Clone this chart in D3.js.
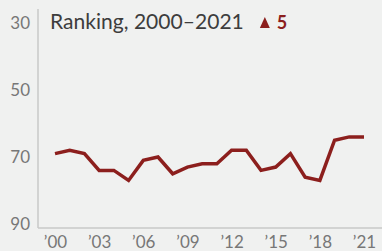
<!DOCTYPE html>
<html>
<head>
<meta charset="utf-8">
<script src="https://cdn.jsdelivr.net/npm/d3@7"></script>
<style>
  body { margin: 0; background: #f0f1f0; }
  svg { display: block; }
  .tick text { font-family: Lato, "Open Sans", sans-serif; font-size: 17px; fill: #777; }
</style>
</head>
<body>
<div id="chart"></div>
<script>
// Ranking by year (lower number = better rank)
var years = d3.range(2000, 2022);
var ranks = [69, 68, 69, 74, 74, 77, 71, 70, 75, 73, 72, 72, 68, 68, 74, 73, 69, 76, 77, 65, 64, 64];
var yTicks = [30, 50, 70, 90];
var xTicks = [2000, 2003, 2006, 2009, 2012, 2015, 2018, 2021];
var title = "Ranking, 2000\u20132021";
var change = "5";

var width = 382, height = 251;
var red = "#8c1f1d";

var svg = d3.select("#chart")
    .append("svg")
    .attr("width", width)
    .attr("height", height);

svg.append("rect")
    .attr("width", width)
    .attr("height", height)
    .attr("fill", "#f0f1f0");

var x = d3.scaleLinear()
    .domain([2000, 2021])
    .range([55, 364]);

// inverted: rank 30 at the top
var y = d3.scaleLinear()
    .domain([30, 90])
    .range([23, 224]);

// axis lines
svg.append("line")
    .attr("x1", 38).attr("x2", 38)
    .attr("y1", 9).attr("y2", 228)
    .attr("stroke", "#c8c8c8")
    .attr("stroke-width", 1.5);

svg.append("line")
    .attr("x1", 38).attr("x2", width)
    .attr("y1", 228).attr("y2", 228)
    .attr("stroke", "#c8c8c8")
    .attr("stroke-width", 1.5);

var yAxis = svg.append("g")
    .attr("transform", "translate(38,0)")
    .call(d3.axisLeft(y).tickValues(yTicks).tickSize(0).tickPadding(8));
yAxis.select(".domain").remove();

var xAxis = svg.append("g")
    .attr("transform", "translate(0,228)")
    .call(d3.axisBottom(x).tickValues(xTicks).tickSize(0).tickPadding(8)
        .tickFormat(function(d) { return "\u2019" + String(d).slice(2); }));
xAxis.select(".domain").remove();

// line
svg.append("path")
    .datum(years.map(function(d, i) { return [d, ranks[i]]; }))
    .attr("fill", "none")
    .attr("stroke", red)
    .attr("stroke-width", 3.5)
    .attr("d", d3.line()
        .x(function(d) { return x(d[0]); })
        .y(function(d) { return y(d[1]); }));

// title, sized to span the same width as the original
var t = svg.append("text")
    .attr("x", 50)
    .attr("y", 29)
    .attr("fill", "#3d3d3d")
    .style("font-family", "Lato, 'Open Sans', sans-serif")
    .style("font-size", "19px")
    .text(title);
var w = t.node().getComputedTextLength();
t.style("font-size", (19 * 194 / w) + "px");
var end = 50 + t.node().getComputedTextLength();

// change indicator
svg.append("path")
    .attr("d", "M0,-11L5,0L-5,0Z")
    .attr("transform", "translate(" + (end + 21) + ",28)")
    .attr("fill", red);

svg.append("text")
    .attr("x", end + 33)
    .attr("y", 29)
    .attr("fill", red)
    .style("font-family", "Lato, 'Open Sans', sans-serif")
    .style("font-size", "18px")
    .style("font-weight", "bold")
    .text(change);
</script>
</body>
</html>
